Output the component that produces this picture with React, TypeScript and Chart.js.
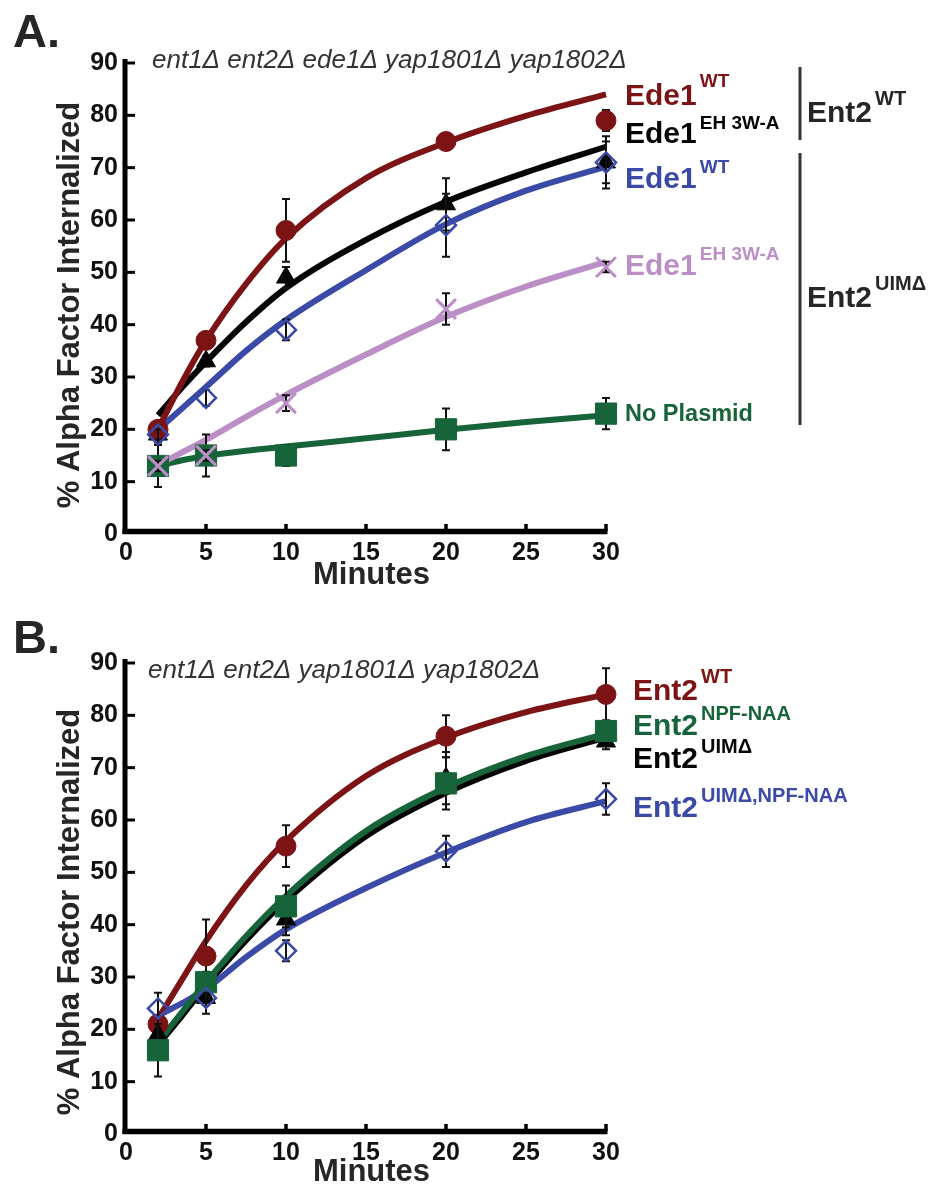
import React, { useEffect, useRef } from "react";
import { Chart, registerables } from "chart.js";

Chart.register(...registerables);

const FONT = '"Liberation Sans", Arial, Helvetica, sans-serif';

// ---------- shared axes ----------
const POINT_X = [2, 5, 10, 20, 30];
const CURVE_X = [2, 3.5, 5, 7.5, 10, 15, 20, 25, 30];
const X_MIN = 0;
const X_MAX = 30;
const X_STEP = 5;
const Y_MIN = 0;
const Y_MAX = 90;
const Y_STEP = 10;

// ---------- panel A : ent1Δ ent2Δ ede1Δ yap1801Δ yap1802Δ ----------
const A_TITLE = "ent1Δ ent2Δ ede1Δ yap1801Δ yap1802Δ";
const A_WT_WT_PTS = [20, 37, 58, 75, 79];
const A_WT_WT_ERR = [1, 1, 6, 1.5, 2];
const A_WT_WT_FIT = [20, 29, 37, 47.8, 56.5, 68, 74.8, 79.9, 84];

const A_WT_EH_PTS = [19, 33, 49, 63, 71];
const A_WT_EH_ERR = [1.5, 1, 2, 5, 5];
const A_WT_EH_FIT = [22.7, 28, 32.9, 40.5, 47, 56.2, 63.5, 69.1, 74];

const A_UIM_WT_PTS = [19, 26, 39, 59, 71];
const A_UIM_WT_ERR = [1, 1.5, 2, 6, 4];
const A_UIM_WT_FIT = [19.9, 24, 28.1, 35, 40.9, 50.4, 59.2, 65.6, 70.2];

const A_UIM_EH_PTS = [13, 15, 25, 43, 51];
const A_UIM_EH_ERR = [1, 1, 1.5, 3, 1];
const A_UIM_EH_FIT = [13.2, 15.6, 18, 22.4, 26.6, 34.3, 41.5, 47.3, 52];

const A_NOPL_PTS = [13, 15, 15, 20, 23];
const A_NOPL_ERR = [4, 4, 2, 4, 3];
const A_NOPL_FIT = [13, 14.1, 14.9, 15.9, 16.7, 18.3, 19.9, 21.4, 22.7];

// ---------- panel B : ent1Δ ent2Δ yap1801Δ yap1802Δ ----------
const B_TITLE = "ent1Δ ent2Δ yap1801Δ yap1802Δ";
const B_WT_PTS = [21, 34, 55, 76, 84];
const B_WT_ERR = [1, 7, 4, 4, 5];
const B_WT_FIT = [22, 29.5, 36.9, 47.5, 56, 68.4, 75.7, 80.6, 84];

const B_NPF_PTS = [16, 29, 43.5, 67, 77];
const B_NPF_ERR = [5, 2, 4, 5, 2];
const B_NPF_FIT = [17.5, 23.3, 29, 37.8, 45.5, 57.9, 66.2, 72.2, 76.5];

const B_UIM_PTS = [19, 26, 41, 68, 75];
const B_UIM_ERR = [1, 3, 3, 5, 1.5];
const B_UIM_FIT = [17, 22.6, 28.3, 37, 44.6, 56.9, 65.2, 71.3, 75.8];

const B_UIMNPF_PTS = [24, 26, 35, 54, 64];
const B_UIMNPF_ERR = [3, 1, 2, 3, 3];
const B_UIMNPF_FIT = [22.6, 25, 27.7, 33.8, 39.1, 47, 53.8, 59.6, 63.6];

// ---------- colours ----------
const RED = "#7c1416";
const BLACK = "#050505";
const BLUE = "#3a4aa6";
const PINK = "#bb8fc6";
const GREEN = "#17643a";
const DARK = "#262626";

function pts(ys: number[]) {
  return POINT_X.map((x, i) => ({ x, y: ys[i] }));
}
function fit(ys: number[]) {
  return CURVE_X.map((x, i) => ({ x, y: ys[i] }));
}

function lineDs(ys: number[], color: string, order: number) {
  return {
    data: fit(ys),
    borderColor: color,
    backgroundColor: color,
    borderWidth: 6,
    pointRadius: 0,
    cubicInterpolationMode: "monotone",
    fill: false,
    clip: false,
    order,
  };
}

function markDs(ys: number[], errs: number[], style: any, order: number) {
  return {
    data: pts(ys),
    showLine: false,
    errors: errs,
    clip: false,
    order,
    ...style,
  };
}

const CIRCLE = (c: string) => ({ pointStyle: "circle", pointRadius: 10, pointBackgroundColor: c, pointBorderColor: c, pointBorderWidth: 1 });
const TRI = (c: string) => ({ pointStyle: "triangle", pointRadius: 11, pointBackgroundColor: c, pointBorderColor: c, pointBorderWidth: 1 });
const DIAM = (c: string) => ({ pointStyle: "rectRot", pointRadius: 10, pointBackgroundColor: "rgba(0,0,0,0)", pointBorderColor: c, pointBorderWidth: 2.5 });
const XMARK = (c: string) => ({ pointStyle: "crossRot", pointRadius: 14, pointBackgroundColor: c, pointBorderColor: c, pointBorderWidth: 3 });
const SQUARE = (c: string) => ({ pointStyle: "rect", pointRadius: 15, pointBackgroundColor: c, pointBorderColor: c, pointBorderWidth: 1 });

// ---------- plugins ----------
const axesPlugin = {
  id: "bioAxes",
  beforeDatasetsDraw(chart: any) {
    const { ctx, chartArea: ca, scales } = chart;
    const x = scales.x;
    const y = scales.y;
    ctx.save();
    ctx.strokeStyle = "#000";
    ctx.lineCap = "butt";
    ctx.lineWidth = 5;
    ctx.beginPath();
    ctx.moveTo(ca.left - 1, ca.top - 4);
    ctx.lineTo(ca.left - 1, ca.bottom);
    ctx.stroke();
    ctx.lineWidth = 5.5;
    ctx.beginPath();
    ctx.moveTo(ca.left - 3.5, ca.bottom - 2.5);
    ctx.lineTo(ca.right + 1.5, ca.bottom - 2.5);
    ctx.stroke();
    ctx.lineWidth = 3;
    y.ticks.forEach((t: any) => {
      if (t.value === Y_MIN) return;
      const py = y.getPixelForValue(t.value);
      ctx.beginPath();
      ctx.moveTo(ca.left, py);
      ctx.lineTo(ca.left + 9, py);
      ctx.stroke();
    });
    ctx.lineWidth = 3.5;
    x.ticks.forEach((t: any) => {
      if (t.value === X_MIN) return;
      const px = x.getPixelForValue(t.value);
      ctx.beginPath();
      ctx.moveTo(px, ca.bottom - 3);
      ctx.lineTo(px, ca.bottom - 10);
      ctx.stroke();
    });
    ctx.restore();
  },
};

const errPlugin = {
  id: "errBars",
  beforeDatasetDraw(chart: any, args: any) {
    const ds = chart.data.datasets[args.index];
    if (!ds.errors) return;
    const { ctx, scales } = chart;
    const x = scales.x;
    const y = scales.y;
    ctx.save();
    ctx.strokeStyle = "#111";
    ctx.lineWidth = 2;
    ds.data.forEach((p: any, i: number) => {
      const e = ds.errors[i];
      if (!e) return;
      const px = x.getPixelForValue(p.x);
      const top = y.getPixelForValue(p.y + e);
      const bot = y.getPixelForValue(p.y - e);
      ctx.beginPath();
      ctx.moveTo(px, top);
      ctx.lineTo(px, bot);
      ctx.moveTo(px - 4, top);
      ctx.lineTo(px + 4, top);
      ctx.moveTo(px - 4, bot);
      ctx.lineTo(px + 4, bot);
      ctx.stroke();
    });
    ctx.restore();
  },
};

function supText(ctx: any, x: number, base: number, supBase: number, main: string, sup: string, color: string, mainSize: number, supSize: number) {
  ctx.fillStyle = color;
  ctx.textAlign = "left";
  ctx.textBaseline = "alphabetic";
  ctx.font = `bold ${mainSize}px ${FONT}`;
  ctx.fillText(main, x, base);
  const w = ctx.measureText(main).width;
  if (sup) {
    ctx.font = `bold ${supSize}px ${FONT}`;
    ctx.fillText(sup, x + w + 3, supBase);
  }
}

const textPlugin = {
  id: "panelText",
  afterDraw(chart: any, _args: any, opts: any) {
    const { ctx } = chart;
    ctx.save();
    ctx.fillStyle = DARK;
    ctx.font = `bold 47px ${FONT}`;
    ctx.textAlign = "left";
    ctx.textBaseline = "alphabetic";
    ctx.fillText(opts.letter, 13, opts.letterBase);
    ctx.fillStyle = "#333";
    ctx.font = `italic 26px ${FONT}`;
    ctx.fillText(opts.title, opts.titleX, opts.titleBase);
    ctx.fillStyle = DARK;
    ctx.font = `bold 31px ${FONT}`;
    ctx.textAlign = "center";
    ctx.fillText("Minutes", 371.5, opts.xTitleBase);
    ctx.save();
    ctx.translate(79, opts.yTitleCenter);
    ctx.rotate(-Math.PI / 2);
    ctx.textAlign = "center";
    ctx.fillText("% Alpha Factor Internalized", 0, 0);
    ctx.restore();
    opts.labels.forEach((l: any) => {
      supText(ctx, l.x, l.base, l.supBase, l.main, l.sup, l.color, l.size, l.supSize);
    });
    ctx.strokeStyle = "#333";
    ctx.lineWidth = 3;
    (opts.brackets || []).forEach((b: any) => {
      ctx.beginPath();
      ctx.moveTo(b.x, b.y0);
      ctx.lineTo(b.x, b.y1);
      ctx.stroke();
    });
    ctx.restore();
  },
};

function makeConfig(datasets: any[], padding: any, text: any) {
  return {
    type: "line",
    data: { datasets },
    plugins: [axesPlugin, errPlugin, textPlugin],
    options: {
      responsive: false,
      animation: false,
      events: [],
      devicePixelRatio: 1,
      layout: { padding },
      plugins: {
        legend: { display: false },
        tooltip: { enabled: false },
        title: { display: false },
        panelText: text,
      },
      scales: {
        x: {
          type: "linear",
          min: X_MIN,
          max: X_MAX,
          grid: { display: false, drawTicks: false },
          border: { display: false },
          ticks: {
            stepSize: X_STEP,
            color: "#111",
            padding: 4,
            maxRotation: 0,
            autoSkip: false,
            font: { family: FONT, size: 25, weight: "bold" },
          },
          afterFit: (s: any) => {
            s.height = 50;
          },
        },
        y: {
          type: "linear",
          min: Y_MIN,
          max: Y_MAX,
          grid: { display: false, drawTicks: false },
          border: { display: false },
          ticks: {
            stepSize: Y_STEP,
            color: "#111",
            padding: 8,
            font: { family: FONT, size: 25, weight: "bold" },
          },
          afterFit: (s: any) => {
            s.width = 126;
          },
        },
      },
    },
  };
}

const datasetsA = [
  lineDs(A_WT_WT_FIT, RED, 10),
  lineDs(A_UIM_EH_FIT, PINK, 11),
  lineDs(A_UIM_WT_FIT, BLUE, 12),
  lineDs(A_WT_EH_FIT, BLACK, 13),
  lineDs(A_NOPL_FIT, GREEN, 14),
  markDs(A_UIM_EH_PTS, A_UIM_EH_ERR, XMARK(PINK), 0),
  markDs(A_UIM_WT_PTS, A_UIM_WT_ERR, DIAM(BLUE), 1),
  markDs(A_WT_WT_PTS, A_WT_WT_ERR, CIRCLE(RED), 2),
  markDs(A_WT_EH_PTS, A_WT_EH_ERR, TRI(BLACK), 3),
  markDs(A_NOPL_PTS, A_NOPL_ERR, SQUARE(GREEN), 4),
];

const datasetsB = [
  lineDs(B_WT_FIT, RED, 10),
  lineDs(B_NPF_FIT, GREEN, 11),
  lineDs(B_UIMNPF_FIT, BLUE, 12),
  lineDs(B_UIM_FIT, BLACK, 13),
  markDs(B_UIMNPF_PTS, B_UIMNPF_ERR, DIAM(BLUE), 0),
  markDs(B_NPF_PTS, B_NPF_ERR, SQUARE(GREEN), 1),
  markDs(B_UIM_PTS, B_UIM_ERR, TRI(BLACK), 2),
  markDs(B_WT_PTS, B_WT_ERR, CIRCLE(RED), 3),
];

const textA = {
  letter: "A.",
  letterBase: 47,
  title: A_TITLE,
  titleX: 152,
  titleBase: 68,
  xTitleBase: 584,
  yTitleCenter: 305,
  labels: [
    { x: 625, base: 105, supBase: 87, main: "Ede1", sup: "WT", color: RED, size: 30, supSize: 19 },
    { x: 625, base: 143, supBase: 129, main: "Ede1", sup: "EH 3W-A", color: BLACK, size: 30, supSize: 19 },
    { x: 625, base: 188, supBase: 173, main: "Ede1", sup: "WT", color: BLUE, size: 30, supSize: 19 },
    { x: 625, base: 275, supBase: 260, main: "Ede1", sup: "EH 3W-A", color: PINK, size: 30, supSize: 19 },
    { x: 625, base: 421, supBase: 421, main: "No Plasmid", sup: "", color: GREEN, size: 23.5, supSize: 19 },
    { x: 807, base: 122, supBase: 105, main: "Ent2", sup: "WT", color: DARK, size: 30, supSize: 20 },
    { x: 807, base: 307, supBase: 290, main: "Ent2", sup: "UIMΔ", color: DARK, size: 30, supSize: 20 },
  ],
  brackets: [
    { x: 800, y0: 67, y1: 140 },
    { x: 800, y0: 153, y1: 425 },
  ],
};

const textB = {
  letter: "B.",
  letterBase: 63,
  title: B_TITLE,
  titleX: 148,
  titleBase: 88,
  xTitleBase: 591,
  yTitleCenter: 322,
  labels: [
    { x: 633, base: 110, supBase: 93, main: "Ent2", sup: "WT", color: RED, size: 30, supSize: 20 },
    { x: 633, base: 145, supBase: 130, main: "Ent2", sup: "NPF-NAA", color: GREEN, size: 30, supSize: 20 },
    { x: 633, base: 178, supBase: 163, main: "Ent2", sup: "UIMΔ", color: BLACK, size: 30, supSize: 20 },
    { x: 633, base: 227, supBase: 212, main: "Ent2", sup: "UIMΔ,NPF-NAA", color: BLUE, size: 30, supSize: 20 },
  ],
  brackets: [],
};

export default function App() {
  const refA = useRef<HTMLCanvasElement>(null);
  const refB = useRef<HTMLCanvasElement>(null);
  useEffect(() => {
    const a = new Chart(refA.current as any, makeConfig(datasetsA, { left: 0, top: 63, right: 323, bottom: 6 }, textA) as any);
    const b = new Chart(refB.current as any, makeConfig(datasetsB, { left: 0, top: 73, right: 323, bottom: 2 }, textB) as any);
    return () => {
      a.destroy();
      b.destroy();
    };
  }, []);
  return (
    <div style={{ position: "absolute", left: 0, top: 0, width: 929, height: 1186, background: "#fff", overflow: "hidden" }}>
      <canvas ref={refA} width={929} height={590} style={{ position: "absolute", left: 0, top: 0, width: 929, height: 590 }} />
      <canvas ref={refB} width={929} height={596} style={{ position: "absolute", left: 0, top: 590, width: 929, height: 596 }} />
    </div>
  );
}
